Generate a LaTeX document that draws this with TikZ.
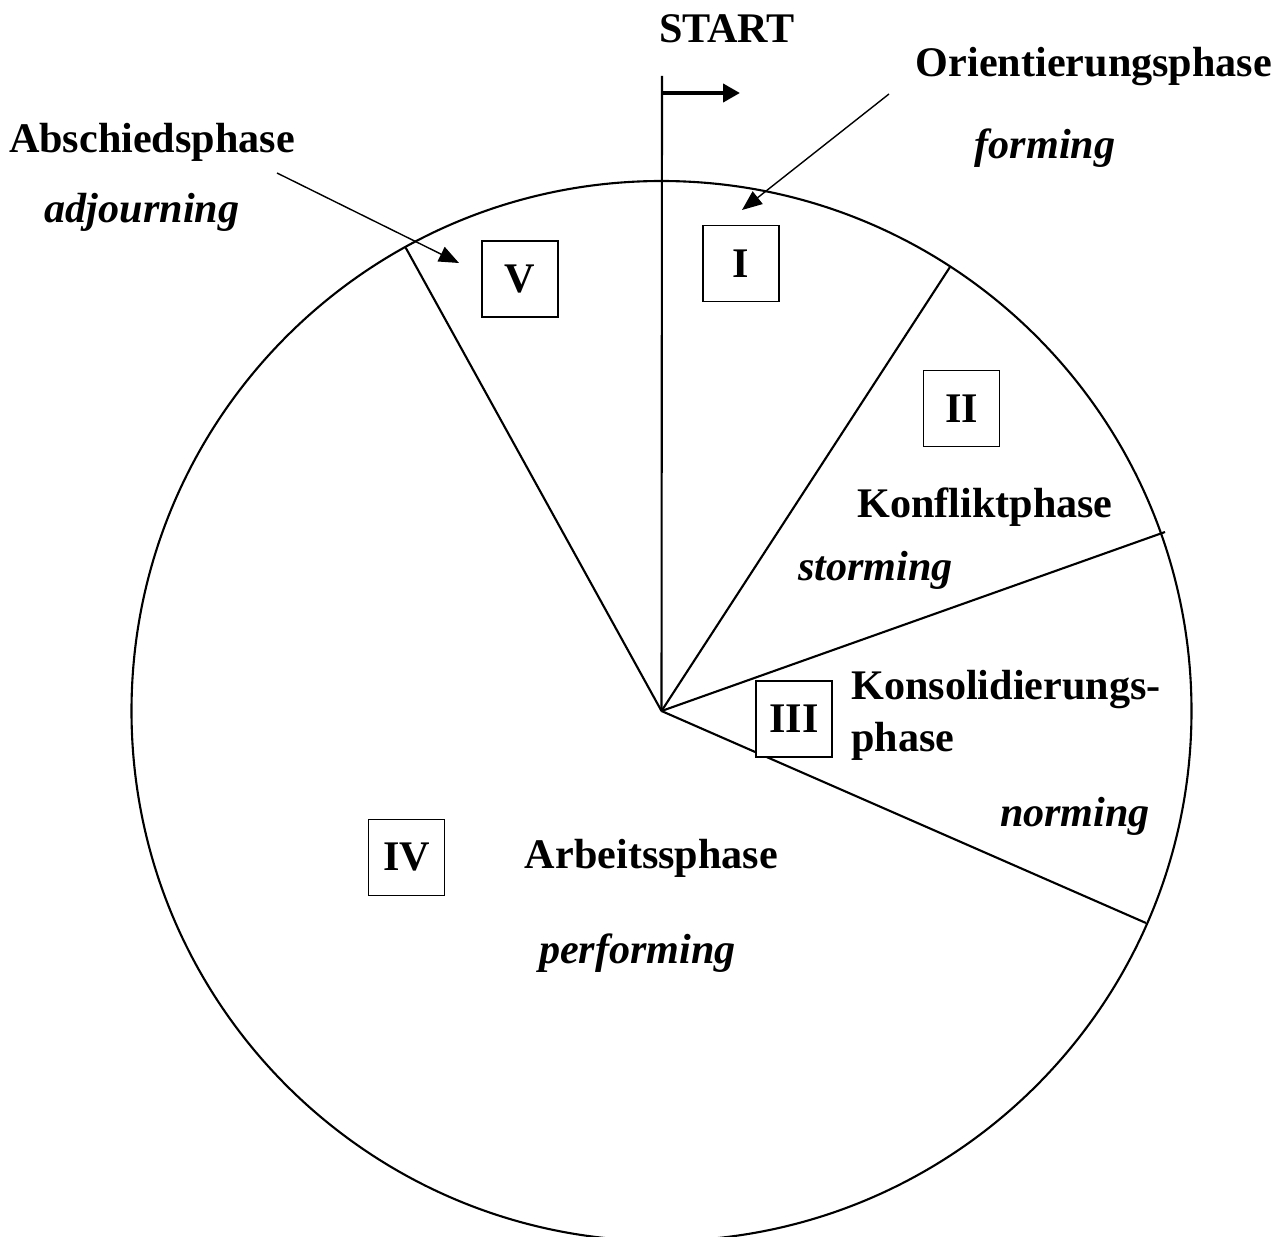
\documentclass[tikz,border=0pt]{standalone}
\usepackage{fontspec}
\setmainfont{Liberation Serif}
\usetikzlibrary{arrows.meta}

\begin{document}
\begin{tikzpicture}[
  x=0.02cm, y=-0.02cm,
  phase/.style={font=\bfseries\fontsize{24}{29.6}\selectfont, anchor=base, inner sep=0pt},
  engl/.style={font=\bfseries\itshape\fontsize{24}{29.6}\selectfont, anchor=base, inner sep=0pt},
  numbox/.style={rectangle, draw, fill=white, line width=0.9pt, minimum size=1.52cm, inner sep=0pt, font=\bfseries\fontsize{24}{29.6}\selectfont},
  sector/.style={line width=1.2pt},
  pointer/.style={-{Triangle[length=0.4cm, width=0.32cm]}, line width=0.8pt},
  startarrow/.style={-{Triangle[length=0.34cm, width=0.36cm]}, line width=2.3pt}
]
\useasboundingbox (0,0) rectangle (1288,1237);
% circle and sector borders
\coordinate (c) at (661.5,711);
\draw[sector] (c) circle [radius=530];
\coordinate (top) at (662,76);
\coordinate (b12) at (950,267);
\coordinate (b23) at (1165,532);
\coordinate (b34) at (1146,923);
\coordinate (b45) at (405.7,247.7);
\draw[sector] (c) -- (top);
\draw[sector] (c) -- (b12);
\draw[sector] (c) -- (b23);
\draw[sector] (c) -- (b34);
\draw[sector] (c) -- (b45);
% start
\node[phase] (start) at (727,43) {START};
\coordinate (flag) at (662,93);
\coordinate (flagtip) at (740,93);
\draw[startarrow] (flag) -- (flagtip);
% phase numbers
\node[numbox] (one) at (741,263.5) {I};
\node[numbox] (two) at (961.5,408.5) {II};
\node[numbox] (three) at (794,719) {III};
\node[numbox] (four) at (406.5,857.5) {IV};
\node[numbox] (five) at (520,279) {V};
% labels
\node[phase] (orient) at (1094,77) {Orientierungsphase};
\node[engl] (forming) at (1045,158) {forming};
\node[phase] (abschied) at (152,153) {Abschiedsphase};
\node[engl] (adjourning) at (142,222) {adjourning};
\node[phase] (konflikt) at (985,517) {Konfliktphase};
\node[engl] (storming) at (875.5,580) {storming};
\node[phase, anchor=base west, align=left] (konsol) at (851,751) {Konsolidierungs-\\phase};
\node[engl] (norming) at (1075,826) {norming};
\node[phase] (arbeit) at (651.5,868) {Arbeitssphase};
\node[engl] (performing) at (637.5,963) {performing};
% pointers
\coordinate (p1) at (889,94);
\coordinate (p1tip) at (742,210);
\coordinate (p5) at (277,173);
\coordinate (p5tip) at (459,263);
\draw[pointer] (p1) -- (p1tip);
\draw[pointer] (p5) -- (p5tip);
\end{tikzpicture}
\end{document}
